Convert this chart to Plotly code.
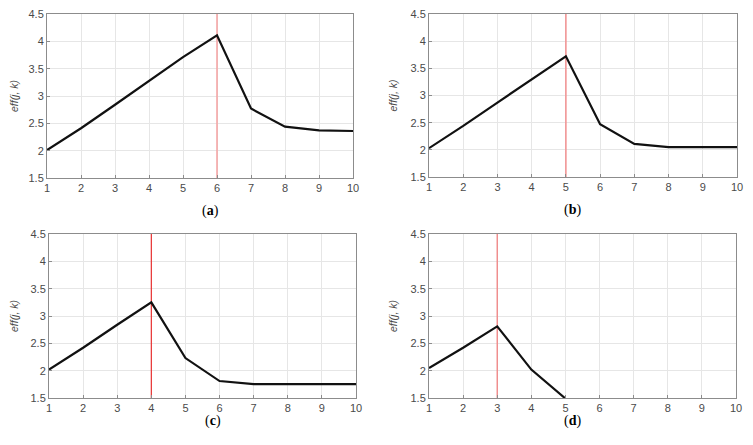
import plotly.graph_objects as go

k = list(range(1, 11))
eff_a = [2.01, 2.41, 2.84, 3.28, 3.71, 4.11, 2.77, 2.44, 2.37, 2.36]
eff_b = [2.03, 2.44, 2.87, 3.29, 3.72, 2.47, 2.11, 2.05, 2.05, 2.05]
eff_c = [2.02, 2.42, 2.84, 3.25, 2.23, 1.81, 1.755, 1.755, 1.755, 1.755]
eff_d = [2.05, 2.42, 2.81, 2.02, 1.49]
peak_k = [6, 5, 4, 3]
labels = ["a", "b", "c", "d"]
series = [eff_a, eff_b, eff_c, eff_d]
x_ticks = list(range(1, 11))
y_ticks = [1.5, 2, 2.5, 3, 3.5, 4, 4.5]
y_tick_text = ["1.5", "2", "2.5", "3", "3.5", "4", "4.5"]

# page has an 8px body margin; figure sized to fit the 753x445 window
OFF = 8
W, H = 753 - 2 * OFF, 445 - 2 * OFF
# plot-area page-pixel boxes: (left, right, top, bottom)
boxes = [(47, 353, 14, 178), (429, 737, 14, 177), (49, 356, 234, 398), (429, 736, 234, 398)]
red_colors = ["#f4a0a0", "#f29090", "#e83030", "#f08080"]
red_widths = [1.5, 1.5, 1.2, 1.3]

fig = go.Figure()
for i, (ys, pk) in enumerate(zip(series, peak_k)):
    n = "" if i == 0 else str(i + 1)
    xa, ya = "x" + n, "y" + n
    fig.add_trace(go.Scatter(x=[pk, pk], y=[1.5, 4.5], mode="lines",
                             line=dict(color=red_colors[i], width=red_widths[i]),
                             xaxis=xa, yaxis=ya, showlegend=False, hoverinfo="skip"))
    fig.add_trace(go.Scatter(x=k[:len(ys)], y=ys, mode="lines",
                             line=dict(color="#111111", width=2.2),
                             xaxis=xa, yaxis=ya, showlegend=False))
    l, r, t, b = [v - OFF for v in boxes[i]]
    axis_common = dict(showgrid=True, gridcolor="#e6e6e6", gridwidth=1, automargin=False,
                       showline=True, linecolor="#8c8c8c", linewidth=1, mirror=True,
                       ticks="inside", ticklen=3, tickcolor="#8c8c8c", zeroline=False,
                       ticklabeloverflow="allow",
                       tickfont=dict(family="Liberation Sans, Arial", size=11, color="#4a4a4a"))
    fig.layout["xaxis" + n] = dict(domain=[l / W, r / W], anchor=ya, range=[1, 10],
                                    tickvals=x_ticks, **axis_common)
    fig.layout["yaxis" + n] = dict(domain=[1 - b / H, 1 - t / H], anchor=xa, range=[1.5, 4.5],
                                    tickvals=y_ticks, ticktext=y_tick_text,
                                    title=dict(text="<i>eff(j, k)</i>", standoff=10,
                                               font=dict(family="Liberation Sans, Arial", size=10.5, color="#4a4a4a")),
                                    **axis_common)
    fig.add_annotation(text="(<b>" + labels[i] + "</b>)", xref="paper", yref="paper",
                       x=(l + r) / 2 / W, y=1 - (b + 33) / H, showarrow=False,
                       font=dict(family="Liberation Serif, Times New Roman", size=14, color="#000000"))

fig.update_layout(width=W, height=H, autosize=False, margin=dict(l=0, r=0, t=0, b=0),
                  plot_bgcolor="white", paper_bgcolor="white")
fig.write_html("out.html")
